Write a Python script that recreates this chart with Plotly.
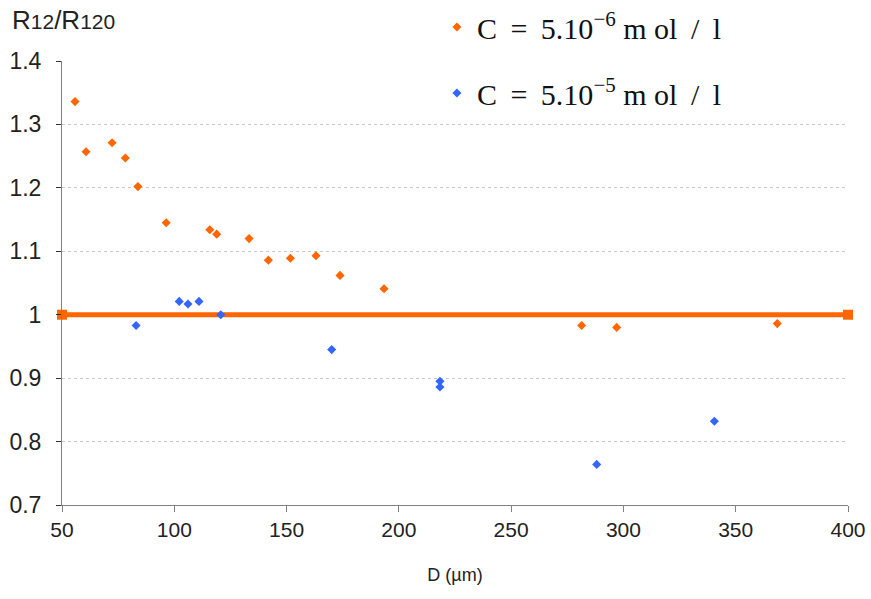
import plotly.graph_objects as go

# C = 5.10^-6 mol/l
d_low = [55.8, 60.7, 72.3, 78.2, 83.8, 96.4, 115.8, 118.9, 133.3, 141.9,
         151.7, 163.1, 173.8, 193.4, 281.4, 297.0, 368.5]
r_low = [1.336, 1.257, 1.271, 1.247, 1.202, 1.145, 1.134, 1.127, 1.120, 1.086,
         1.089, 1.093, 1.062, 1.041, 0.983, 0.980, 0.986]

# C = 5.10^-5 mol/l
d_high = [83.0, 102.2, 106.1, 111.0, 120.7, 170.1, 218.3, 218.3, 288.1, 340.5]
r_high = [0.983, 1.021, 1.017, 1.021, 1.000, 0.945, 0.895, 0.886, 0.764, 0.832]

# reference line R12/R120 = 1
ref_x = [50, 400]
ref_y = [1, 1]

orange = '#FF6600'
blue = '#3366FF'
serif = 'Liberation Serif, Times New Roman, serif'
sans = 'Liberation Sans, Arial, sans-serif'

fig = go.Figure()

fig.add_trace(go.Scatter(
    x=ref_x, y=ref_y,
    mode='lines+markers',
    line=dict(color=orange, width=5),
    marker=dict(symbol='square', size=10, color=orange, opacity=1),
    cliponaxis=False,
    showlegend=False,
    hoverinfo='skip'
))

fig.add_trace(go.Scatter(
    x=d_low, y=r_low,
    mode='markers',
    name='C\u2009 =\u2009 5.10<sup>\u22126</sup> m ol\u2009 /\u2009 l',
    legendgroup='a',
    marker=dict(symbol='diamond', size=7, color=orange)
))

fig.add_trace(go.Scatter(
    x=d_high, y=r_high,
    mode='markers',
    name='C\u2009 =\u2009 5.10<sup>\u22125</sup> m ol\u2009 /\u2009 l',
    legendgroup='b',
    marker=dict(symbol='diamond', size=7, color=blue)
))

fig.update_layout(
    width=871, height=599,
    margin=dict(l=62, r=23, t=61, b=94, autoexpand=False),
    paper_bgcolor='white',
    plot_bgcolor='white',
    font=dict(family=sans, size=21, color='#222222'),
    legend=dict(
        x=0.477, y=1.135, xanchor='left', yanchor='top',
        font=dict(family=serif, size=30, color='#111111'),
        bgcolor='rgba(0,0,0,0)',
        traceorder='grouped',
        tracegroupgap=24,
        itemsizing='trace'
    ),
    xaxis=dict(
        range=[50, 400],
        tickvals=[50, 100, 150, 200, 250, 300, 350, 400],
        showgrid=False,
        zeroline=False,
        automargin=False,
        showline=True, linecolor='#808080', linewidth=1,
        ticks='outside', ticklen=6, tickcolor='#808080',
        tickfont=dict(size=21),
        ticklabelstandoff=0,
        title=dict(text='D (\u00b5m)', font=dict(size=18), standoff=28)
    ),
    yaxis=dict(
        range=[0.7, 1.4],
        tickvals=[0.7, 0.8, 0.9, 1.0, 1.1, 1.2, 1.3, 1.4],
        ticktext=['0.7', '0.8', '0.9', '1', '1.1', '1.2', '1.3', '1.4'],
        showgrid=True, gridcolor='#C8C8C8', griddash='3px,3px', gridwidth=1,
        zeroline=False,
        automargin=False,
        showline=True, linecolor='#808080', linewidth=1,
        ticks='outside', ticklen=5, tickcolor='#333333',
        tickfont=dict(size=23),
        ticklabelstandoff=10
    ),
    annotations=[dict(
        text="R<span style='font-size:21px'>12</span>/R<span style='font-size:21px'>120</span>",
        xref='paper', yref='paper', x=-0.066, y=1.092,
        xanchor='left', yanchor='middle', showarrow=False,
        font=dict(family=sans, size=26, color='#222222')
    )]
)

fig.write_html("out.html", config={'displayModeBar': False},
               post_script="document.body.style.margin='0';")
